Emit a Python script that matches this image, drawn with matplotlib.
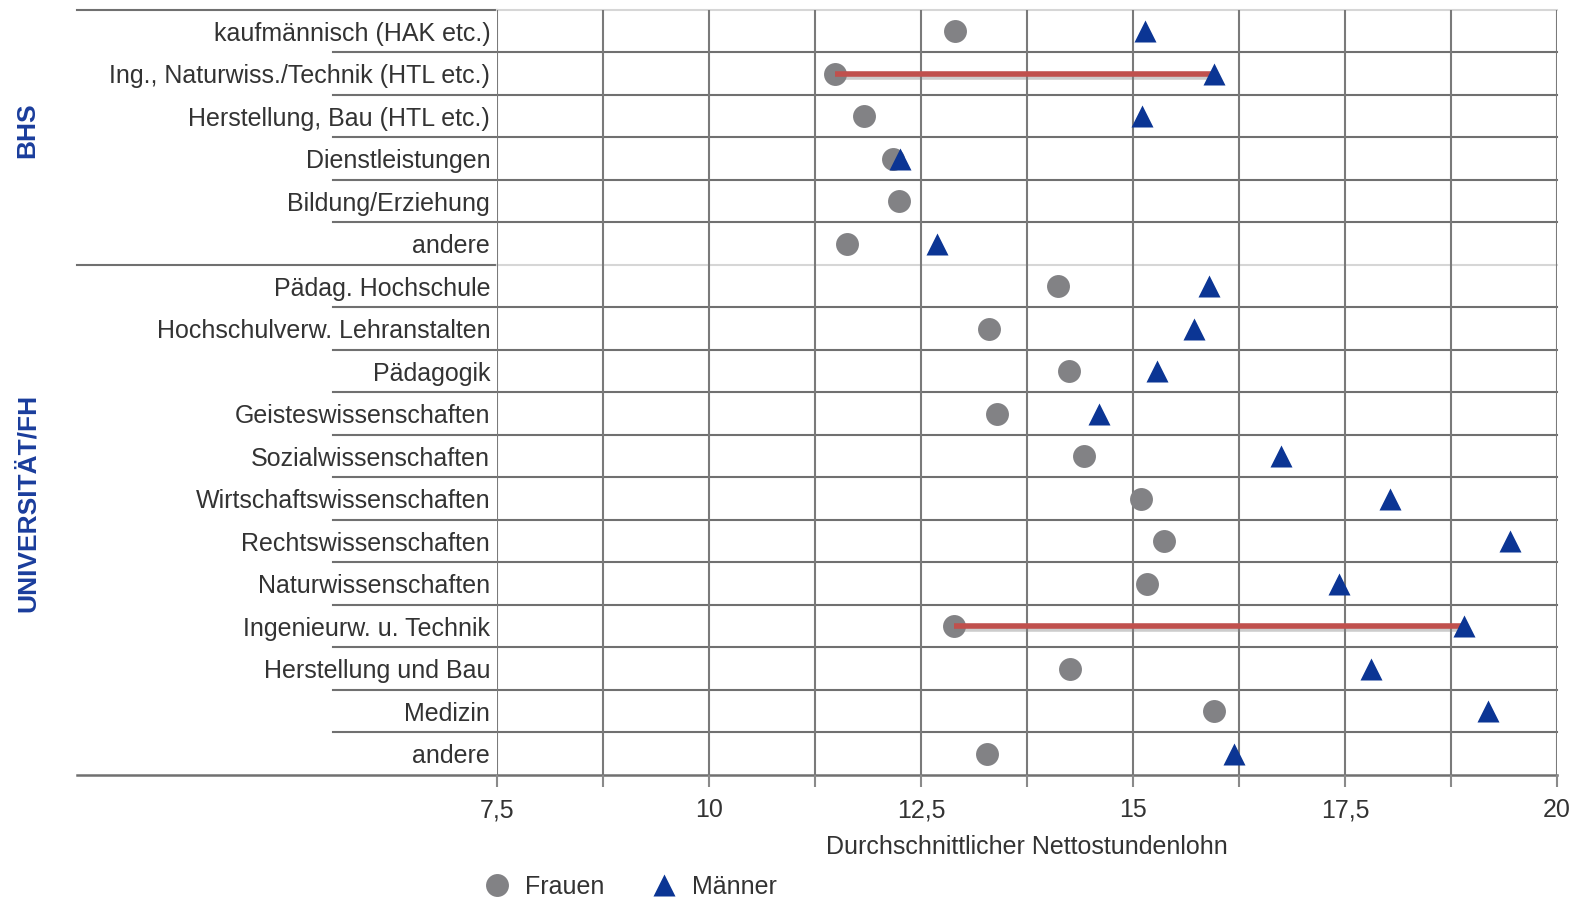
import numpy as np
import matplotlib
matplotlib.use("Agg")
import matplotlib.pyplot as plt
import matplotlib.patheffects as pe
from matplotlib.lines import Line2D

plt.rcParams['font.family'] = ['Liberation Sans', 'DejaVu Sans']

# Daten: durchschnittlicher Nettostundenlohn nach Ausbildung
bhs_labels = ["kaufmännisch (HAK etc.)", "Ing., Naturwiss./Technik (HTL etc.)",
              "Herstellung, Bau (HTL etc.)", "Dienstleistungen",
              "Bildung/Erziehung", "andere"]
bhs_frauen = [12.90, 11.48, 11.83, 12.17, 12.24, 11.63]
bhs_maenner = [15.14, 15.96, 15.10, 12.25, np.nan, 12.69]

uni_labels = ["Pädag. Hochschule", "Hochschulverw. Lehranstalten", "Pädagogik",
              "Geisteswissenschaften", "Sozialwissenschaften",
              "Wirtschaftswissenschaften", "Rechtswissenschaften",
              "Naturwissenschaften", "Ingenieurw. u. Technik",
              "Herstellung und Bau", "Medizin", "andere"]
uni_frauen = [14.12, 13.30, 14.25, 13.40, 14.42, 15.09, 15.37, 15.16, 12.89,
              14.26, 15.96, 13.28]
uni_maenner = [15.90, 15.72, 15.28, 14.60, 16.75, 18.03, 19.44, 17.43, 18.90,
               17.81, 19.19, 16.19]

groups = ["BHS", "UNIVERSITÄT/FH"]
x_ticks = [7.5, 10, 12.5, 15, 17.5, 20]
x_tick_labels = ["7,5", "10", "12,5", "15", "17,5", "20"]

GREY = "#828285"
NAVY = "#0b3594"
RED = "#c0504d"
TXT = "#333333"
DARK = "#707070"
LIGHT = "#d6d6d6"
FS = 18

labels = bhs_labels + uni_labels
frauen = np.array(bhs_frauen + uni_frauen)
maenner = np.array(bhs_maenner + uni_maenner)
n_bhs = len(bhs_labels)
n = len(labels)
ypos = np.arange(n) + 0.5

fig = plt.figure(figsize=(15.78, 9), dpi=100)
ax = fig.add_axes([0.315, 0.1389, 0.6717, 0.85])
ax.set_xlim(7.5, 20)
ax.set_ylim(n, 0)
for s in ax.spines.values():
    s.set_visible(False)

# Gitter
ax.set_xticks(x_ticks)
ax.set_xticklabels(x_tick_labels)
ax.set_xticks(np.arange(8.75, 20, 2.5), minor=True)
ax.grid(axis='x', which='both', color="#7a7a7a", lw=1.5, zorder=1)
ax.tick_params(axis='x', which='both', direction='out', length=8.6, width=1.5,
               color="#8a8a8a", labelsize=FS, labelcolor=TXT, pad=8)
ax.set_yticks(ypos)
ax.set_yticklabels(labels)
ax.tick_params(axis='y', length=0, pad=5, labelsize=FS, labelcolor=TXT)

trans = ax.get_yaxis_transform()
# horizontale Linien
for k in range(1, n):
    if k == n_bhs:
        continue
    ax.plot([-0.1547, 1], [k, k], color=DARK, lw=1.5, transform=trans,
            clip_on=False, zorder=1)
for k in [0, n_bhs]:
    ax.plot([-0.396, 0], [k, k], color=DARK, lw=1.5, transform=trans,
            clip_on=False, zorder=1)
    ax.plot([0, 1], [k, k], color=LIGHT, lw=1.5, transform=trans,
            clip_on=False, zorder=1)
ax.plot([-0.396, 1], [n, n], color=DARK, lw=1.8, transform=trans,
        clip_on=False, zorder=1)

# größte Differenz je Gruppe hervorheben
gap = maenner - frauen
for lo, hi in [(0, n_bhs), (n_bhs, n)]:
    i = lo + int(np.nanargmax(gap[lo:hi]))
    ax.plot([frauen[i], maenner[i]], [ypos[i], ypos[i]], color=RED, lw=4,
            solid_capstyle='butt', zorder=4,
            path_effects=[pe.SimpleLineShadow(offset=(0, -2), shadow_color='gray',
                                              alpha=0.4), pe.Normal()])

ax.plot(frauen, ypos, 'o', ms=16.5, color=GREY, mec='none', zorder=3,
        clip_on=False)
ax.plot(maenner, ypos, '^', ms=16, color=NAVY, mec='none', zorder=5,
        clip_on=False)

ax.set_xlabel("Durchschnittlicher Nettostundenlohn", fontsize=FS, color=TXT,
              labelpad=9)

# Gruppenbeschriftung
fig.text(0.0175, 1 - 130 / 900, groups[0], rotation=90, ha='center', va='center',
         fontsize=19, fontweight='bold', color="#1a3d9c")
fig.text(0.0175, 1 - 503 / 900, groups[1], rotation=90, ha='center',
         va='center', fontsize=19, fontweight='bold', color="#1a3d9c")

handles = [Line2D([], [], marker='o', ls='none', ms=16.5, color=GREY, mec='none'),
           Line2D([], [], marker='^', ls='none', ms=16, color=NAVY, mec='none')]
fig.legend(handles, ["Frauen", "Männer"], loc='center left',
           bbox_to_anchor=(0.301, 1 - 887 / 900), ncol=2, frameon=False,
           fontsize=FS, handlelength=1.0, handletextpad=0.6, columnspacing=1.9,
           labelcolor=TXT, borderaxespad=0)

fig.savefig("out.png", dpi=100)
